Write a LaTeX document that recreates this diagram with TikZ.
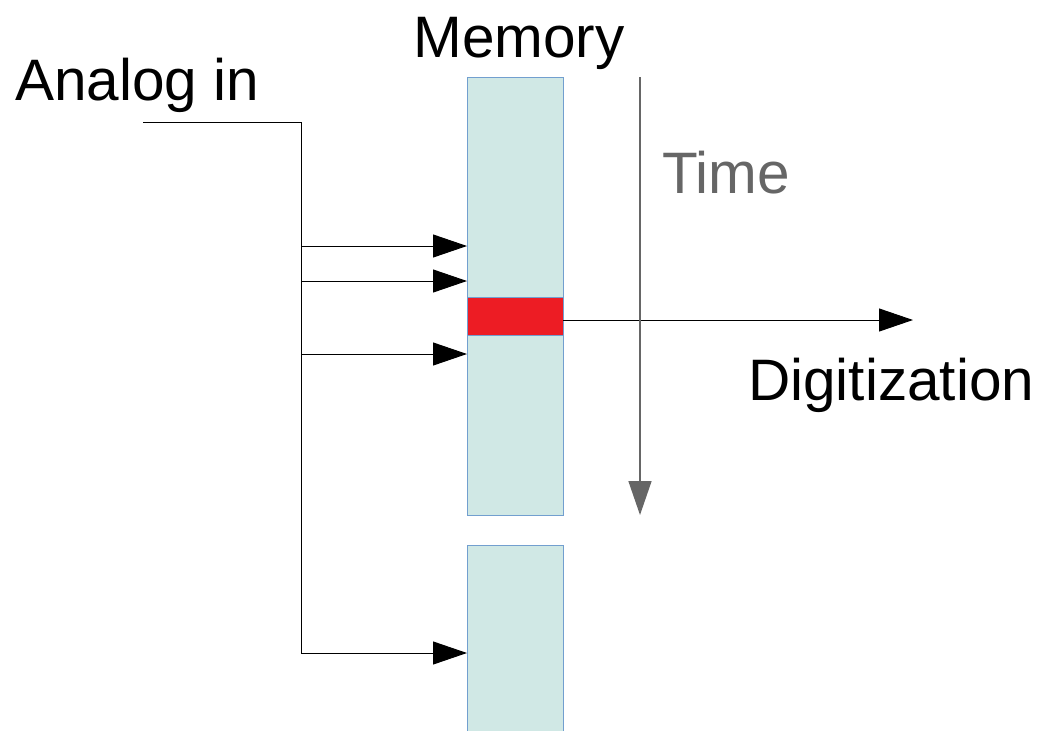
\documentclass[tikz,border=0pt]{standalone}
\usepackage{fontspec}
\setmainfont{Liberation Sans}
\usetikzlibrary{arrows.meta}
\definecolor{memfill}{HTML}{D0E8E5}
\definecolor{memedge}{HTML}{729FCF}
\definecolor{slotred}{HTML}{ED1C24}
\definecolor{timegray}{HTML}{666666}
\tikzset{
  membox/.style={draw=memedge, line width=1pt, fill=memfill, inner sep=0pt, outer sep=0pt, minimum width=96pt},
  label text/.style={inner sep=0pt, font=\fontsize{58.5pt}{70pt}\selectfont},
  feed/.style={draw=black, line width=1pt, -{Triangle[length=34pt,width=23pt]}},
  wire/.style={draw=black, line width=1pt},
}
\begin{document}
\begin{tikzpicture}[x=1pt, y=-1pt]
\useasboundingbox (0,0) rectangle (1037,731);
\begin{scope}
\clip (0,0) rectangle (1037,731);
% memory blocks
\node[membox, minimum height=438pt] (mem1) at (515,296) {};
\node[membox, minimum height=200pt] (mem2) at (515,645) {};
\node[draw=memedge, line width=1pt, fill=slotred, inner sep=0pt, outer sep=0pt,
      minimum width=96pt, minimum height=38pt] (slot) at (515,316) {};
\end{scope}
% labels
\node[label text, anchor=base west] (analog) at (15,100) {Analog in};
\node[label text, anchor=base] (memory) at (519,57) {Memory};
\node[label text, anchor=base west, text=timegray] (time) at (662,193) {Time};
\node[label text, anchor=base west] (digi) at (748,400) {Digitization};
% analog input bus
\coordinate (in) at (143,122);
\coordinate (corner) at (301,122);
\coordinate (b1) at (301,246);
\coordinate (b2) at (301,281);
\coordinate (b3) at (301,354);
\coordinate (b4) at (301,653);
\draw[wire] (in) -- (corner) -- (b4);
\draw[feed] (b1) -- (b1 -| mem1.west);
\draw[feed] (b2) -- (b2 -| mem1.west);
\draw[feed] (b3) -- (b3 -| mem1.west);
\draw[feed] (b4) -- (b4 -| mem2.west);
% readout
\coordinate (out) at (913,320);
\draw[feed] (slot.east |- out) -- (out);
% time axis
\coordinate (t0) at (640,77);
\coordinate (t1) at (640,515);
\draw[draw=timegray, line width=1.5pt, -{Triangle[length=34pt,width=23pt]}] (t0) -- (t1);
\end{tikzpicture}
\end{document}
